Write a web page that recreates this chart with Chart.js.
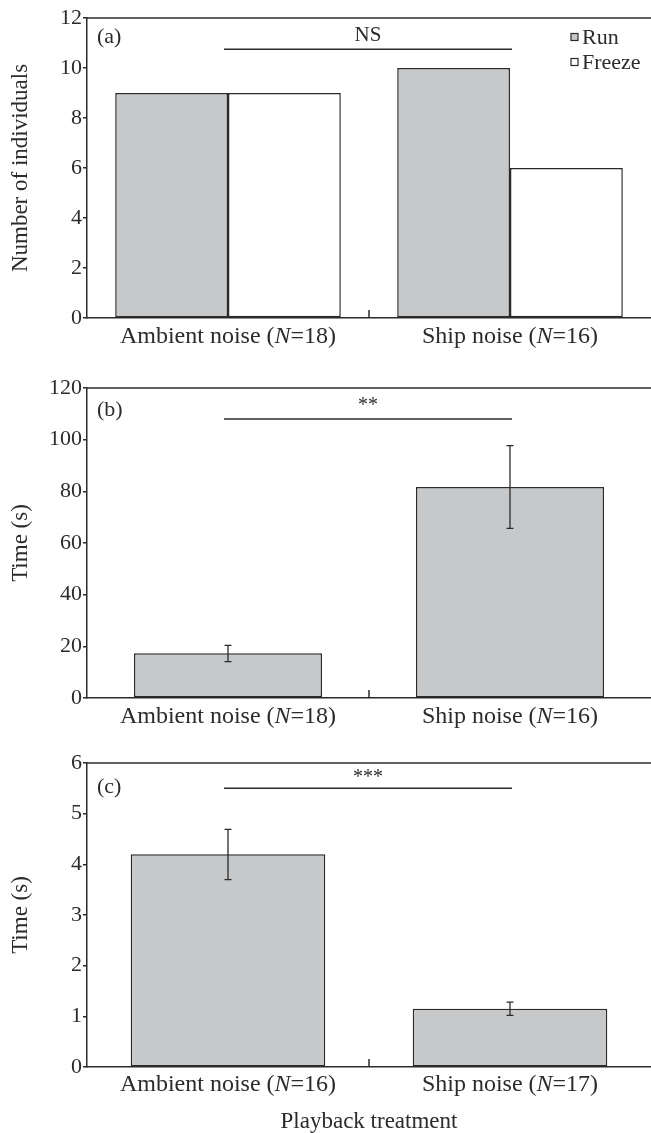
<!DOCTYPE html>
<html>
<head>
<meta charset="utf-8">
<script src="https://cdn.jsdelivr.net/npm/chart.js@4.4.0/dist/chart.umd.min.js"></script>
<style>
    html, body { margin: 0; padding: 0; background: #fff; }
    #wrap { position: relative; width: 651px; height: 1133px; }
    .panel { position: absolute; left: 0; width: 651px; }
</style>
</head>
<body>
<div id="wrap">
    <div class="panel" style="top:0;height:370px"><canvas id="chartA"></canvas></div>
    <div class="panel" style="top:370px;height:360px"><canvas id="chartB"></canvas></div>
    <div class="panel" style="top:730px;height:403px"><canvas id="chartC"></canvas></div>
</div>
<script>
// Panel (a): number of individuals that ran / froze
const groupsA = ['Ambient noise (N=18)', 'Ship noise (N=16)'];
const runA = [9, 10];
const freezeA = [9, 6];
const ticksA = [0, 2, 4, 6, 8, 10, 12];

// Panel (b): time (s), mean with error range
const groupsB = ['Ambient noise (N=18)', 'Ship noise (N=16)'];
const meanB = [17.3, 81.7];
const lowB = [14.1, 65.7];
const highB = [20.4, 97.7];
const ticksB = [0, 20, 40, 60, 80, 100, 120];

// Panel (c): time (s), mean with error range
const groupsC = ['Ambient noise (N=16)', 'Ship noise (N=17)'];
const meanC = [4.2, 1.15];
const lowC = [3.7, 1.02];
const highC = [4.69, 1.28];
const ticksC = [0, 1, 2, 3, 4, 5, 6];

const INK = '#2b2b2b';
const GREY = '#c7c8ca';
const SERIF = "'Liberation Serif', 'DejaVu Serif', serif";

Chart.defaults.font.family = SERIF;
Chart.defaults.color = INK;

// extra drawing: frame top, middle tick, error bars, significance bar, panel letter, legend, x labels
const decor = {
    id: 'decor',
    afterDatasetsDraw(chart, args, opts) {
        const ctx = chart.ctx;
        const area = chart.chartArea;
        const xs = chart.scales.x;
        const ys = chart.scales.y;
        ctx.save();
        ctx.strokeStyle = INK;
        ctx.fillStyle = INK;
        ctx.lineWidth = 1.5;

        // top frame line
        ctx.beginPath();
        ctx.moveTo(area.left, area.top);
        ctx.lineTo(area.right, area.top);
        ctx.stroke();

        // small inward tick between the two groups
        const mid = (xs.getPixelForValue(0) + xs.getPixelForValue(1)) / 2;
        ctx.beginPath();
        ctx.moveTo(mid, area.bottom);
        ctx.lineTo(mid, area.bottom - 8);
        ctx.stroke();

        // error bars
        if (opts.low) {
            ctx.lineWidth = 1.3;
            opts.low.forEach((lo, i) => {
                const x = xs.getPixelForValue(i);
                const y1 = ys.getPixelForValue(lo);
                const y2 = ys.getPixelForValue(opts.high[i]);
                ctx.beginPath();
                ctx.moveTo(x, y1); ctx.lineTo(x, y2);
                ctx.moveTo(x - 3.5, y1); ctx.lineTo(x + 3.5, y1);
                ctx.moveTo(x - 3.5, y2); ctx.lineTo(x + 3.5, y2);
                ctx.stroke();
            });
        }

        // significance bar
        const sy = ys.getPixelForValue(opts.sigY);
        ctx.lineWidth = 1.5;
        ctx.beginPath();
        ctx.moveTo(xs.getPixelForValue(0) - 4, sy);
        ctx.lineTo(xs.getPixelForValue(1) + 2, sy);
        ctx.stroke();
        ctx.textAlign = 'center';
        ctx.textBaseline = 'middle';
        ctx.font = opts.sigSize + 'px ' + SERIF;
        ctx.fillText(opts.sigText, mid - 1, sy - opts.sigGap);

        // panel letter
        ctx.textAlign = 'left';
        ctx.font = '22px ' + SERIF;
        ctx.fillText(opts.letter, area.left + 10, area.top + opts.letterY);

        // legend built from the datasets
        if (opts.legend) {
            ctx.font = '22px ' + SERIF;
            chart.data.datasets.forEach((ds, i) => {
                const y = area.top + 19 + i * 25;
                ctx.fillStyle = ds.backgroundColor;
                ctx.fillRect(571, y - 3.5, 7, 7);
                ctx.lineWidth = 1.2;
                ctx.strokeRect(571, y - 3.5, 7, 7);
                ctx.fillStyle = INK;
                ctx.fillText(ds.label, 582, y + 1);
            });
        }

        // x labels with italic N
        ctx.textBaseline = 'middle';
        chart.data.labels.forEach((lab, i) => {
            const m = lab.match(/^(.*\()N(=.*)$/);
            const parts = m ? [[m[1], ''], ['N', 'italic '], [m[2], '']] : [[lab, '']];
            let total = 0;
            parts.forEach(p => { ctx.font = p[1] + '24px ' + SERIF; total += ctx.measureText(p[0]).width; });
            let x = xs.getPixelForValue(i) - total / 2;
            ctx.textAlign = 'left';
            parts.forEach(p => {
                ctx.font = p[1] + '24px ' + SERIF;
                ctx.fillText(p[0], x, area.bottom + opts.labelGap);
                x += ctx.measureText(p[0]).width;
            });
        });
        ctx.restore();
    }
};

function yAxis(max, tickList, title) {
    return {
        min: 0,
        max: max,
        afterBuildTicks: s => { s.ticks = tickList.map(v => ({ value: v })); },
        afterFit: s => { s.width = 87; },
        ticks: { padding: 1, color: INK, font: { size: 22 } },
        grid: { drawOnChartArea: false, drawTicks: true, tickLength: 4, color: INK, lineWidth: 1.5 },
        border: { color: INK, width: 1.5 },
        title: { display: true, text: title, color: INK, font: { size: 23 }, padding: { top: 7 } }
    };
}

function xAxis(height, title) {
    const ax = {
        offset: true,
        afterFit: s => { s.height = height; },
        ticks: { display: false },
        grid: { display: false, drawTicks: false },
        border: { color: INK, width: 1.5 }
    };
    if (title) {
        ax.title = { display: true, text: title, color: INK, font: { size: 23, lineHeight: 1 }, padding: { top: 0, bottom: 0 } };
    }
    return ax;
}

function baseOptions(top, xHeight, yMax, yTicks, yTitle, xTitle, decorOpts) {
    return {
        responsive: true,
        maintainAspectRatio: false,
        animation: false,
        layout: { padding: { top: top, left: 0, right: 0, bottom: 0 } },
        plugins: { legend: { display: false }, tooltip: { enabled: false }, decor: decorOpts },
        scales: { x: xAxis(xHeight, xTitle), y: yAxis(yMax, yTicks, yTitle) }
    };
}

const barStyle = { borderColor: INK, borderWidth: 1.5, borderSkipped: false, barPercentage: 1.0 };

new Chart(document.getElementById('chartA'), {
    type: 'bar',
    data: {
        labels: groupsA,
        datasets: [
            Object.assign({ label: 'Run', data: runA, backgroundColor: GREY, categoryPercentage: 0.8 }, barStyle),
            Object.assign({ label: 'Freeze', data: freezeA, backgroundColor: '#ffffff', categoryPercentage: 0.8 }, barStyle)
        ]
    },
    options: baseOptions(18, 52, 12, ticksA, 'Number of individuals', null,
        { letter: '(a)', letterY: 19, sigY: 10.75, sigText: 'NS', sigSize: 21, sigGap: 14, legend: true, labelGap: 19 }),
    plugins: [decor]
});

new Chart(document.getElementById('chartB'), {
    type: 'bar',
    data: {
        labels: groupsB,
        datasets: [
            Object.assign({ label: 'Time', data: meanB, backgroundColor: GREY, categoryPercentage: 0.667 }, barStyle)
        ]
    },
    options: baseOptions(18, 32, 120, ticksB, 'Time (s)', null,
        { letter: '(b)', letterY: 22, sigY: 108, sigText: '**', sigSize: 20, sigGap: 13, low: lowB, high: highB, labelGap: 19 }),
    plugins: [decor]
});

new Chart(document.getElementById('chartC'), {
    type: 'bar',
    data: {
        labels: groupsC,
        datasets: [
            Object.assign({ label: 'Time', data: meanC, backgroundColor: GREY, categoryPercentage: 0.69 }, barStyle)
        ]
    },
    options: baseOptions(33, 66, 6, ticksC, 'Time (s)', 'Playback treatment',
        { letter: '(c)', letterY: 24, sigY: 5.5, sigText: '***', sigSize: 20, sigGap: 11, low: lowC, high: highC, labelGap: 18 }),
    plugins: [decor]
});
</script>
</body>
</html>
